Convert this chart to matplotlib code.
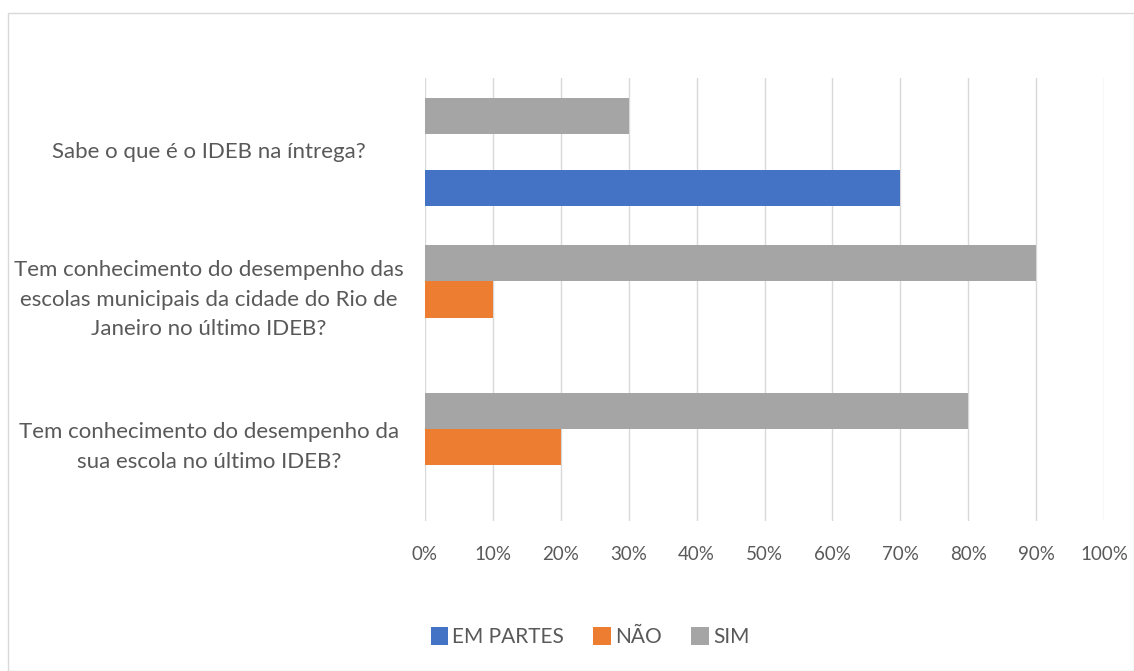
import matplotlib
matplotlib.use("Agg")
import matplotlib.pyplot as plt
from matplotlib.patches import Rectangle, Patch
from matplotlib.transforms import blended_transform_factory
import numpy as np

categories = [
    "Sabe o que é o IDEB na íntrega?",
    "Tem conhecimento do desempenho das\nescolas municipais da cidade do Rio de\nJaneiro no último IDEB?",
    "Tem conhecimento do desempenho da\nsua escola no último IDEB?",
]
series_names = ["EM PARTES", "NÃO", "SIM"]
em_partes = [70, 0, 0]
nao = [0, 10, 20]
sim = [30, 90, 80]
xtick_values = list(range(0, 101, 10))
xtick_labels = [f"{v}%" for v in xtick_values]

colors = ["#4472C4", "#ED7D31", "#A5A5A5"]
text_color = "#595959"
plt.rcParams['font.family'] = ['Lato', 'DejaVu Sans']

W, H = 1134, 671
fig = plt.figure(figsize=(W / 100, H / 100), dpi=100)
fig.patch.set_facecolor("white")

# chart border
fig.add_artist(Rectangle((8 / W, 0), (W - 8) / W, (H - 13) / H, transform=fig.transFigure,
                         fill=False, edgecolor="#d9d9d9", linewidth=1.0))

ax = fig.add_axes([425 / W, 1 - 521 / H, (1104 - 425) / W, (521 - 78) / H])
n = len(categories)
ypos = np.arange(n)[::-1].astype(float)
h = 0.245
offsets = [-h, 0.0, h]
for vals, off, c, name in zip([em_partes, nao, sim], offsets, colors, series_names):
    ax.barh(ypos + off, vals, height=h, color=c, label=name, zorder=3)

ax.set_xlim(0, 100)
ax.set_ylim(-0.5, n - 0.5)
ax.set_xticks(xtick_values)
ax.set_xticklabels(xtick_labels)
ax.tick_params(axis="x", length=0, pad=18, labelsize=13.5, labelcolor=text_color)
ax.set_yticks([])
ax.grid(axis="x", color="#d9d9d9", linewidth=1.0, zorder=0)
for s in ax.spines.values():
    s.set_visible(False)

# category labels centred at x = 209 px, aligned to bar groups
tr = blended_transform_factory(fig.transFigure, ax.transData)
for y, lab in zip(ypos, categories):
    ax.text(209 / W, y, lab, transform=tr, ha="center", va="center", multialignment="center",
            fontsize=16, color=text_color, linespacing=1.6, clip_on=False)

handles = [Patch(facecolor=c, label=nm) for c, nm in zip(colors, series_names)]
fig.legend(handles=handles, loc="center", bbox_to_anchor=(590 / W, 1 - 637 / H), ncol=3,
           frameon=False, fontsize=15, labelcolor=text_color, handlelength=0.85, handleheight=0.95,
           handletextpad=0.2, columnspacing=1.4)

fig.savefig("out.png", dpi=100)
